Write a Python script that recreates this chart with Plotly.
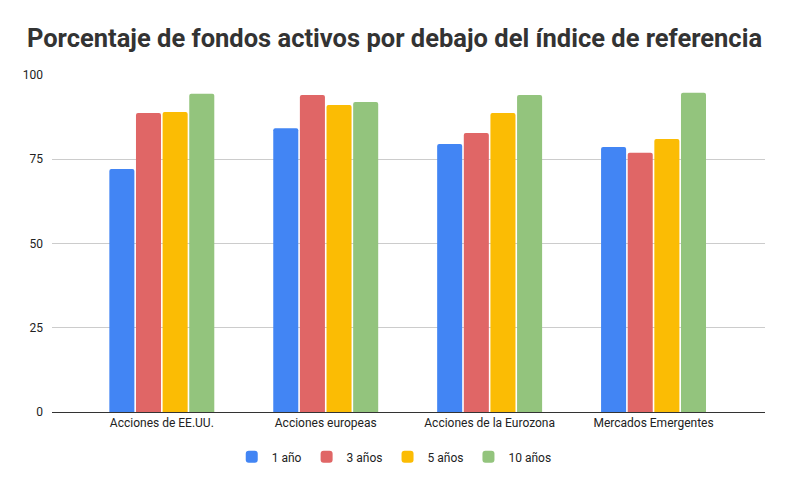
import plotly.graph_objects as go

categories = ["Acciones de EE.UU.", "Acciones europeas", "Acciones de la Eurozona", "Mercados Emergentes"]
series_names = ["1 año", "3 años", "5 años", "10 años"]
v_1 = [72.1, 84.2, 79.5, 78.6]
v_3 = [88.7, 94.1, 82.8, 76.9]
v_5 = [89.0, 91.1, 88.7, 81.0]
v_10 = [94.4, 92.0, 94.1, 94.7]
colors = ["#4285F4", "#E06666", "#FBBC04", "#93C47D"]
tick_vals = [0, 25, 50, 75, 100]

fig = go.Figure()
for name, vals, c in zip(series_names, [v_1, v_3, v_5, v_10], colors):
    fig.add_trace(go.Bar(x=categories, y=vals, name=name, marker_color=c, marker_line_width=0))

fig.update_layout(
    width=789, height=488,
    paper_bgcolor="white", plot_bgcolor="white",
    margin=dict(l=52, r=24, t=75, b=76, autoexpand=False),
    title=dict(text="<b>Porcentaje de fondos activos por debajo del índice de referencia</b>",
               x=0.5, xanchor="center", y=0.922, yanchor="middle",
               font=dict(family="Roboto, Arial", size=25.5, color="#333333")),
    barmode="group", bargap=0.35, bargroupgap=0.06, barcornerradius=2,
    font=dict(family="Roboto, Arial", size=12, color="#222222"),
    legend=dict(orientation="h", x=0.48, xanchor="center", y=-0.09, yanchor="top",
                font=dict(size=12, color="#222222"), itemwidth=30,
                traceorder="normal"),
    showlegend=True,
)
fig.update_xaxes(range=[-0.67, 3.68], showgrid=False, showline=True, linecolor="#333333", linewidth=1,
                 ticks="", automargin=False, tickfont=dict(size=12, color="#222222"))
fig.update_yaxes(range=[0, 100], tickvals=tick_vals, gridcolor="#cccccc", gridwidth=1,
                 zeroline=False, showline=False, ticks="", ticklabelstandoff=8, automargin=False,
                 tickfont=dict(size=12, color="#222222"))

fig.write_html("out.html")
